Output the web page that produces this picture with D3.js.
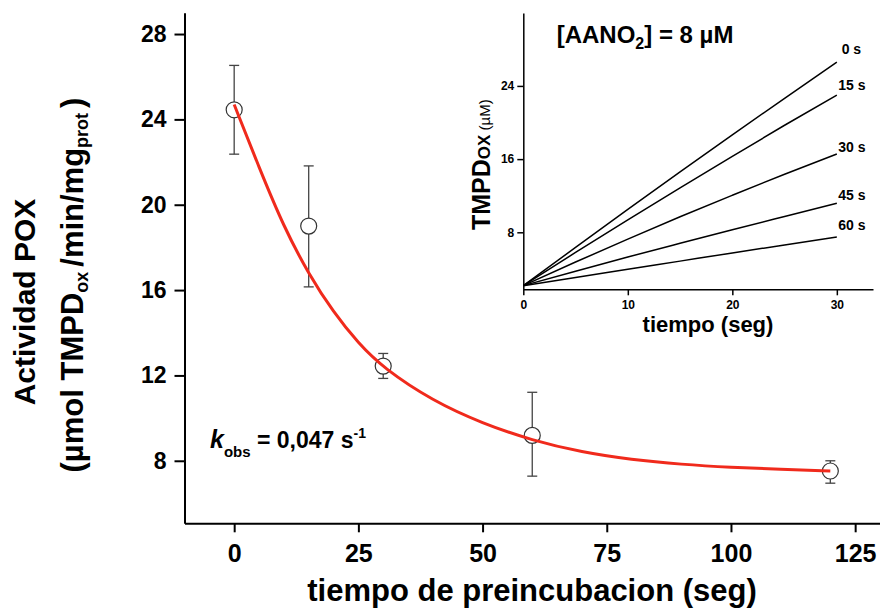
<!DOCTYPE html>
<html lang="es">
<head>
<meta charset="UTF-8">
<title>Actividad POX</title>
<style>
  body { margin: 0; background: #fff; }
  svg text { font-family: "Liberation Sans", Arial, sans-serif; font-weight: bold; fill: #000; }
</style>
</head>
<body>
<svg width="880" height="615"></svg>
<script src="https://d3js.org/d3.v7.min.js"></script>
<script>
// main panel: activity vs preincubation time
var mainTimes    = [0, 15, 30, 60, 120];
var mainActivity = [24.45, 19.0, 12.44, 9.19, 7.52];
var mainErrLow   = [22.37, 16.15, 11.86, 7.28, 6.95];
var mainErrHigh  = [26.53, 21.82, 13.03, 11.21, 8.0];

// red fitted curve
var fitTimes    = [0, 5, 10, 15, 20, 25, 30, 40, 50, 60, 70, 80, 90, 100, 110, 120];
var fitActivity = [24.7, 21.75, 18.95, 16.75, 14.95, 13.5, 12.35, 10.8, 9.75, 8.95, 8.4, 8.05, 7.83, 7.69, 7.6, 7.52];

var mainXTicks = [0, 25, 50, 75, 100, 125];
var mainYTicks = [8, 12, 16, 20, 24, 28];

// inset: TMPDox traces
var insetTimes  = [0, 5, 10, 15, 20, 25, 30];
var insetLabels = ["0 s", "15 s", "30 s", "45 s", "60 s"];
var trace0  = [2.17, 6.35, 10.5, 14.6, 18.65, 22.65, 26.6];
var trace15 = [2.17, 5.8, 9.35, 12.85, 16.3, 19.7, 23.0];
var trace30 = [2.17, 4.75, 7.25, 9.7, 12.05, 14.35, 16.56];
var trace45 = [2.17, 3.75, 5.3, 6.8, 8.28, 9.73, 11.17];
var trace60 = [2.17, 3.07, 3.96, 4.85, 5.74, 6.62, 7.49];
var insetXTicks = [0, 10, 20, 30];
var insetYTicks = [8, 16, 24];

var svg = d3.select("svg");
svg.append("rect").attr("width", 880).attr("height", 615).attr("fill", "#fff");

// ---------- main chart ----------
var x = d3.scaleLinear().domain([-10, 130]).range([184.5, 880]);
var y = d3.scaleLinear().domain([5.07, 29]).range([523.3, 12.7]);

var gx = svg.append("g")
  .attr("transform", "translate(0,523.3)")
  .call(d3.axisBottom(x).tickValues(mainXTicks).tickSize(9).tickSizeOuter(0).tickPadding(12));
gx.select(".domain").attr("stroke-width", 2);
gx.selectAll(".tick line").attr("stroke-width", 2);
gx.selectAll(".tick text").style("font-size", "25px");

var gy = svg.append("g")
  .attr("transform", "translate(184.5,0)")
  .call(d3.axisLeft(y).tickValues(mainYTicks).tickSize(10).tickSizeOuter(0).tickPadding(8));
gy.select(".domain").attr("stroke-width", 2);
gy.selectAll(".tick line").attr("stroke-width", 2);
gy.selectAll(".tick text").style("font-size", "23px");

// error bars
var pts = mainTimes.map(function(t, i) {
  return { t: t, v: mainActivity[i], lo: mainErrLow[i], hi: mainErrHigh[i] };
});
var eb = svg.append("g").attr("stroke", "#444").attr("stroke-width", 1.3).attr("fill", "none");
pts.forEach(function(d) {
  eb.append("line").attr("x1", x(d.t)).attr("x2", x(d.t)).attr("y1", y(d.lo)).attr("y2", y(d.hi));
  eb.append("line").attr("x1", x(d.t) - 5).attr("x2", x(d.t) + 5).attr("y1", y(d.lo)).attr("y2", y(d.lo));
  eb.append("line").attr("x1", x(d.t) - 5).attr("x2", x(d.t) + 5).attr("y1", y(d.hi)).attr("y2", y(d.hi));
});

svg.append("g").selectAll("circle")
  .data(pts).enter().append("circle")
  .attr("cx", function(d) { return x(d.t); })
  .attr("cy", function(d) { return y(d.v); })
  .attr("r", 8)
  .attr("fill", "#fff")
  .attr("stroke", "#333")
  .attr("stroke-width", 1.2);

var fit = fitTimes.map(function(t, i) { return { t: t, v: fitActivity[i] }; });
svg.append("path")
  .datum(fit)
  .attr("fill", "none")
  .attr("stroke", "#f02a1c")
  .attr("stroke-width", 3)
  .attr("d", d3.line().curve(d3.curveBasis)
    .x(function(d) { return x(d.t); })
    .y(function(d) { return y(d.v); }));

// k_obs annotation
var kt = svg.append("text").attr("x", 210).attr("y", 448).style("font-size", "23px");
kt.append("tspan").style("font-style", "italic").style("font-size", "25px").text("k");
kt.append("tspan").style("font-size", "15px").attr("dy", 9).text("obs");
kt.append("tspan").attr("dy", -9).text(" = 0,047 s");
kt.append("tspan").style("font-size", "14px").attr("dy", -10).text("-1");

// axis titles
svg.append("text")
  .attr("x", 532).attr("y", 601)
  .attr("text-anchor", "middle")
  .style("font-size", "31px")
  .text("tiempo de preincubacion (seg)");

svg.append("text")
  .attr("transform", "translate(35,302) rotate(-90)")
  .attr("text-anchor", "middle")
  .style("font-size", "30px")
  .text("Actividad POX");

var yl = svg.append("text")
  .attr("transform", "translate(83,285) rotate(-90)")
  .attr("text-anchor", "middle")
  .style("font-size", "31px");
yl.append("tspan").text("(\u00b5mol TMPD");
yl.append("tspan").style("font-size", "18px").attr("dy", 5).text("ox ");
yl.append("tspan").attr("dy", -5).text("/min/mg");
yl.append("tspan").style("font-size", "18px").attr("dy", 5).text("prot ");
yl.append("tspan").attr("dy", -5).text(")");

// ---------- inset ----------
var xi = d3.scaleLinear().domain([0, 33.46]).range([523.3, 873]);
var yi = d3.scaleLinear().domain([1.77, 31.97]).range([289.3, 13]);

var gxi = svg.append("g")
  .attr("transform", "translate(0,289.3)")
  .call(d3.axisBottom(xi).tickValues(insetXTicks).tickSize(6).tickSizeOuter(0).tickPadding(5));
gxi.select(".domain").attr("stroke-width", 1.5);
gxi.selectAll(".tick line").attr("stroke-width", 1.5);
gxi.selectAll(".tick text").style("font-size", "12px");

var gyi = svg.append("g")
  .attr("transform", "translate(523.3,0)")
  .call(d3.axisLeft(yi).tickValues(insetYTicks).tickSize(6).tickSizeOuter(0).tickPadding(3));
gyi.select(".domain").attr("stroke-width", 1.5);
gyi.selectAll(".tick line").attr("stroke-width", 1.5);
gyi.selectAll(".tick text").style("font-size", "12px");

var traces = [trace0, trace15, trace30, trace45, trace60];
var traceLine = d3.line()
  .curve(d3.curveMonotoneX)
  .x(function(d) { return xi(d.t); })
  .y(function(d) { return yi(d.v); });
traces.forEach(function(tr) {
  var rows = insetTimes.map(function(t, i) { return { t: t, v: tr[i] }; });
  svg.append("path")
    .datum(rows)
    .attr("fill", "none")
    .attr("stroke", "#000")
    .attr("stroke-width", 1.5)
    .attr("d", traceLine);
});

// trace labels sit just above each line end
var labelY = [54.3, 90, 151.7, 200, 230];
insetLabels.forEach(function(lab, k) {
  svg.append("text")
    .attr("x", k === 0 ? 841.7 : 838.3)
    .attr("y", labelY[k])
    .style("font-size", "14px")
    .text(lab);
});

var cc = svg.append("text").attr("x", 556.7).attr("y", 43).style("font-size", "24px");
cc.append("tspan").text("[AANO");
cc.append("tspan").style("font-size", "16px").attr("dy", 6).text("2");
cc.append("tspan").attr("dy", -6).text("] = 8 \u00b5M");

svg.append("text")
  .attr("x", 708).attr("y", 332)
  .attr("text-anchor", "middle")
  .style("font-size", "22px")
  .text("tiempo (seg)");

var iy = svg.append("text")
  .attr("transform", "translate(490,230) rotate(-90)")
  .style("font-size", "25px");
iy.append("tspan").text("TMPD");
iy.append("tspan").style("font-size", "17px").text("OX");
iy.append("tspan").style("font-size", "15px").style("font-weight", "normal").text(" (\u00b5M)");
</script>
</body>
</html>
